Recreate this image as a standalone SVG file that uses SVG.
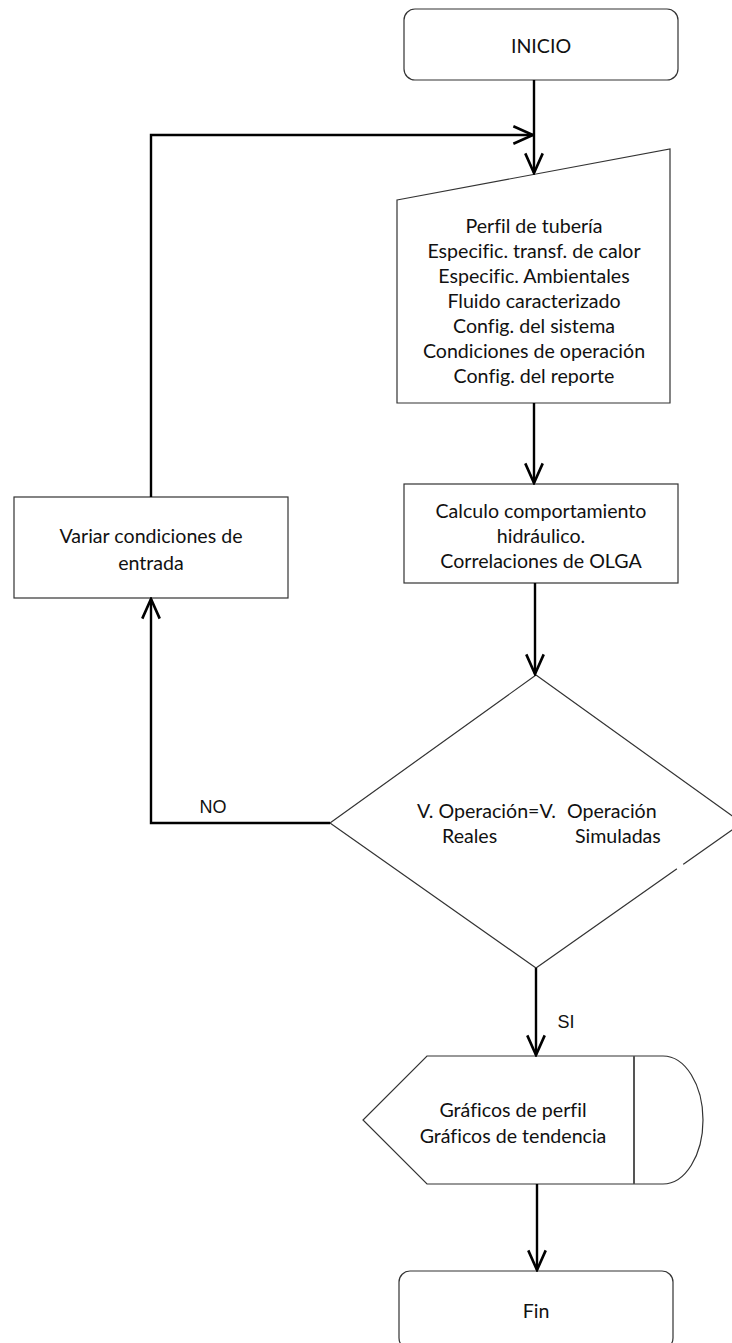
<svg xmlns="http://www.w3.org/2000/svg" width="732" height="1343" viewBox="0 0 732 1343">
  <defs>
    <marker id="arrow" markerUnits="userSpaceOnUse" markerWidth="24" markerHeight="24" viewBox="-20 -10 22 20" refX="0" refY="0" orient="auto">
      <path d="M -18 -8 L 0 0 L -18 8" fill="none" stroke="#000" stroke-width="2.4"/>
    </marker>
  </defs>
  <style>
    .shape { fill: #fff; stroke: #333; stroke-width: 1.2; }
    .edge { fill: none; stroke: #000; stroke-width: 2.4; }
    .txt { font-family: Lato, "Open Sans", sans-serif; font-size: 19.6px; fill: #111; text-anchor: middle; dominant-baseline: central; font-variant-ligatures: none; }
    .lbl { font-family: "Liberation Sans", Arial, sans-serif; font-size: 18px; fill: #111; text-anchor: middle; dominant-baseline: central; }
  </style>
  <rect width="732" height="1343" fill="#fff"/>

  <!-- start terminator -->
  <g id="inicio">
    <rect class="shape" x="404" y="9" width="274" height="71" rx="11"/>
    <text class="txt" x="541" y="45">INICIO</text>
  </g>

  <!-- manual input: simulation data -->
  <g id="datos">
    <path class="shape" d="M 397 200 L 670 149 L 670 403 L 397 403 Z"/>
    <text class="txt" x="534" y="225">Perfil de tubería</text>
    <text class="txt" x="534" y="250">Especific. transf. de calor</text>
    <text class="txt" x="534" y="275">Especific. Ambientales</text>
    <text class="txt" x="534" y="300">Fluido caracterizado</text>
    <text class="txt" x="534" y="325">Config. del sistema</text>
    <text class="txt" x="534" y="350">Condiciones de operación</text>
    <text class="txt" x="534" y="375">Config. del reporte</text>
  </g>

  <!-- hydraulic calculation -->
  <g id="calculo">
    <rect class="shape" x="404" y="484" width="274" height="99"/>
    <text class="txt" x="541" y="510">Calculo comportamiento</text>
    <text class="txt" x="541" y="535">hidráulico.</text>
    <text class="txt" x="541" y="560">Correlaciones de OLGA</text>
  </g>

  <!-- vary inputs -->
  <g id="variar">
    <rect class="shape" x="14" y="497" width="274" height="101"/>
    <text class="txt" x="151" y="535">Variar condiciones de</text>
    <text class="txt" x="151" y="562">entrada</text>
  </g>

  <!-- decision -->
  <g id="decision">
    <path class="shape" d="M 536 675 L 742 823 L 536 968 L 330 823 Z"/>
    <!-- small break in the lower-right side -->
    <line x1="683" y1="864" x2="677" y2="869" stroke="#fff" stroke-width="3"/>
    <text class="txt" x="417" y="810" style="text-anchor:start">V. Operación=V.</text>
    <text class="txt" x="567" y="810" style="text-anchor:start">Operación</text>
    <text class="txt" x="442" y="835" style="text-anchor:start">Reales</text>
    <text class="txt" x="575" y="835" style="text-anchor:start">Simuladas</text>
  </g>

  <!-- display output -->
  <g id="graficos">
    <path class="shape" d="M 427 1056 H 663 A 40 64 0 0 1 703 1120 A 40 64 0 0 1 663 1184 H 427 L 363 1120 Z"/>
    <line x1="634" y1="1056" x2="634" y2="1184" stroke="#555" stroke-width="2"/>
    <text class="txt" x="513" y="1109">Gráficos de perfil</text>
    <text class="txt" x="513" y="1135">Gráficos de tendencia</text>
  </g>

  <!-- end terminator -->
  <g id="fin">
    <rect class="shape" x="399" y="1271" width="274" height="78" rx="11"/>
    <text class="txt" x="536" y="1310">Fin</text>
  </g>

  <!-- connectors -->
  <g id="connectors">
    <path class="edge" d="M 534 80 V 173" marker-end="url(#arrow)"/>
    <path class="edge" d="M 151 497 V 135 H 533" marker-end="url(#arrow)"/>
    <path class="edge" d="M 534 403 V 483" marker-end="url(#arrow)"/>
    <path class="edge" d="M 535 583 V 674" marker-end="url(#arrow)"/>
    <path class="edge" d="M 330 823 H 151 V 599" marker-end="url(#arrow)"/>
    <path class="edge" d="M 536 968 V 1055" marker-end="url(#arrow)"/>
    <path class="edge" d="M 537 1184 V 1270" marker-end="url(#arrow)"/>
    <text class="lbl" x="213" y="807">NO</text>
    <text class="lbl" x="566" y="1022">SI</text>
  </g>
</svg>
